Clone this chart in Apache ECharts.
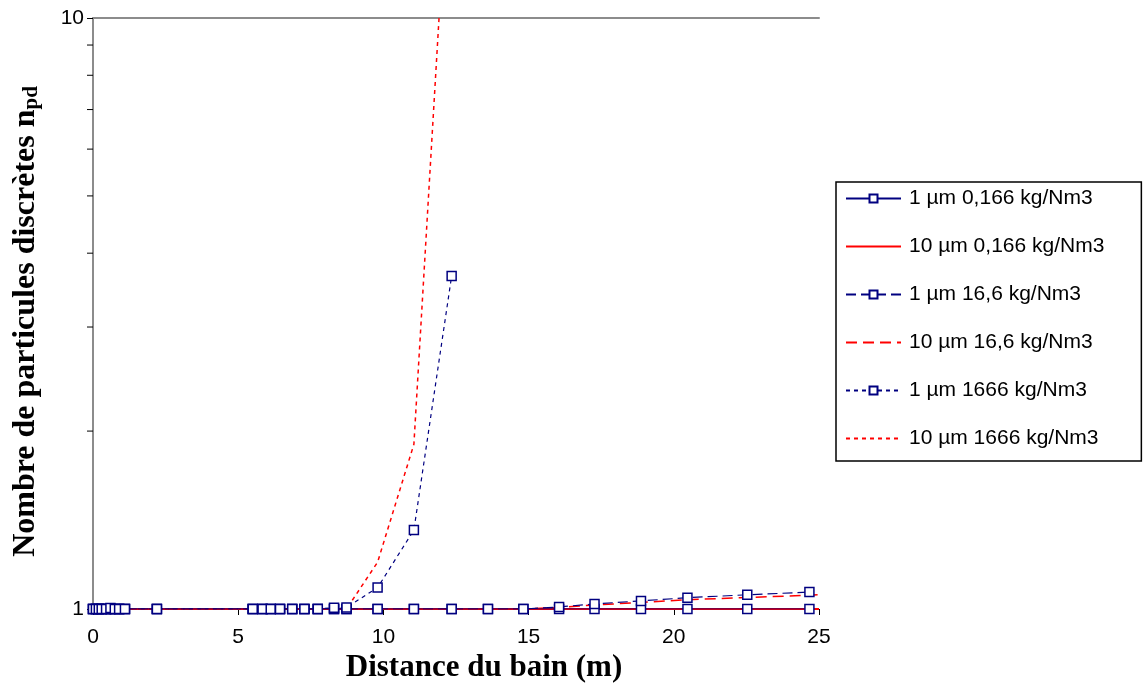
<!DOCTYPE html>
<html>
<head>
<meta charset="utf-8">
<style>
  html, body { margin: 0; padding: 0; background: #fff; }
  #chart { width: 1146px; height: 686px; }
</style>
<script src="https://cdn.jsdelivr.net/npm/echarts@6/dist/echarts.min.js"></script>
</head>
<body>
<div id="chart"></div>
<script>
// distances (m) des points de mesure
const xs = [0, 0.1, 0.2, 0.3, 0.45, 0.6, 0.75, 0.9, 1.1, 2.2, 5.5, 5.84, 6.12, 6.44, 6.86, 7.28, 7.74, 8.3, 8.73,
  9.8, 11.05, 12.35, 13.6, 14.82, 16.05, 17.27, 18.87, 20.47, 22.53, 24.67];
const xsRed = [0, 0.1, 0.2, 0.3, 0.45, 0.6, 0.75, 0.9, 1.1, 2.2, 5.5, 5.84, 6.12, 6.44, 6.86, 7.28, 7.74, 8.3, 8.73,
  9.8, 11.05, 12.35, 13.6, 14.82, 16.05, 17.27, 18.87, 20.47, 22.53, 24.67, 25];

const names = ['1 µm 0,166 kg/Nm3', '10 µm 0,166 kg/Nm3', '1 µm 16,6 kg/Nm3', '10 µm 16,6 kg/Nm3', '1 µm 1666 kg/Nm3', '10 µm 1666 kg/Nm3'];

const v1um0166 = [1, 1, 1, 1, 1, 1, 1, 1, 1, 1, 1, 1, 1, 1, 1, 1, 1, 1, 1, 1, 1, 1, 1, 1, 1, 1, 1, 1, 1, 1];
const v10um0166 = [1, 1, 1, 1, 1, 1, 1, 1, 1, 1, 1, 1, 1, 1, 1, 1, 1, 1, 1, 1, 1, 1, 1, 1, 1, 1, 1, 1, 1, 1, 1];
const v1um166 = [1, 1, 1, 1, 1, 1, 1, 1, 1, 1, 1, 1, 1, 1, 1, 1, 1, 1, 1, 1, 1, 1, 1, 1,
  1.008, 1.02, 1.032, 1.045, 1.057, 1.068];
const v10um166 = [1, 1, 1, 1, 1, 1, 1, 1, 1, 1, 1, 1, 1, 1, 1, 1, 1, 1, 1, 1, 1, 1, 1, 1,
  1.006, 1.016, 1.026, 1.037, 1.046, 1.055, 1.058];
const v1um1666 = [1, 1, 1, 1, 1, 1.004, 1, 1, 1, 1, 1, 1, 1, 1, 1, 1, 1, 1.005, 1.006, 1.087, 1.36, 3.66];
const v10um1666 = [1, 1, 1, 1, 1, 1, 1, 1, 1, 1, 1, 1, 1, 1, 1, 1, 1, 1, 1, 1.2, 1.9, 23];

const minorTicks = [2, 3, 4, 5, 6, 7, 8, 9]; // graduations secondaires axe log

const blue = '#000080';
const red = '#ff0000';
const sans = 'Liberation Sans, Arial, sans-serif';
const serif = 'Liberation Serif, Times New Roman, serif';

const pair = (x, y) => y.map((v, i) => [x[i], v]);

const squareSeries = (name, data, type, z) => ({
  name,
  type: 'line',
  data,
  z,
  symbol: 'rect',
  symbolSize: 9,
  itemStyle: { color: '#fff', borderColor: blue, borderWidth: 1.5 },
  lineStyle: { color: blue, width: 1.2, type },
});
const plainSeries = (name, data, type, width, z) => ({
  name,
  type: 'line',
  data,
  z,
  symbol: 'none',
  itemStyle: { color: red },
  lineStyle: { color: red, width, type },
});

// pas de symbole dans la légende pour les courbes rouges
const legendData = names.map((n, i) => (i % 2 === 1 ? { name: n, itemStyle: { opacity: 0 } } : { name: n }));

const chart = echarts.init(document.getElementById('chart'));
chart.setOption({
  animation: false,
  grid: { left: 93, right: 327, top: 18, bottom: 77, outerBoundsMode: 'none' },
  legend: {
    data: legendData,
    orient: 'vertical',
    left: 836,
    top: 182,
    padding: [6, 37, 12, 9],
    itemWidth: 55,
    itemHeight: 10,
    itemGap: 27,
    borderColor: '#000',
    borderWidth: 1.5,
    textStyle: { fontFamily: sans, fontSize: 21, color: '#000', padding: [0, 0, 0, 3] },
  },
  xAxis: [
    {
      type: 'value',
      min: 0,
      max: 25,
      interval: 5,
      name: 'Distance du bain (m)',
      nameLocation: 'middle',
      nameGap: 43,
      nameTextStyle: { fontFamily: serif, fontWeight: 'bold', fontSize: 31, color: '#000', padding: [0, 0, 0, 56] },
      axisLine: { onZero: false, lineStyle: { color: '#000', width: 1 } },
      axisTick: { length: 6, lineStyle: { color: '#000' } },
      axisLabel: { margin: 18, fontFamily: sans, fontSize: 21, color: '#000' },
      splitLine: { show: false },
    },
    {
      type: 'value',
      position: 'top',
      min: 0,
      max: 25,
      axisLine: { show: true, onZero: false, lineStyle: { color: '#8c8c8c', width: 2 } },
      axisTick: { show: false },
      axisLabel: { show: false },
      splitLine: { show: false },
    },
  ],
  yAxis: [
    {
      type: 'log',
      logBase: 10,
      min: 1,
      max: 10,
      name: 'Nombre de particules discrètes n{sub|pd}',
      nameLocation: 'middle',
      nameRotate: 90,
      nameGap: 51,
      nameTextStyle: {
        fontFamily: serif, fontWeight: 'bold', fontSize: 32, color: '#000', padding: [0, 16, 0, 0],
        rich: { sub: { fontFamily: serif, fontWeight: 'bold', fontSize: 21, color: '#000', verticalAlign: 'bottom', padding: [12, 0, 0, 0] } },
      },
      axisLine: { show: true, lineStyle: { color: '#000', width: 1 } },
      axisTick: { show: true, length: 6, lineStyle: { color: '#000' } },
      axisLabel: { margin: 9, fontFamily: sans, fontSize: 21, color: '#000' },
      splitLine: { show: false },
    },
    {
      type: 'log',
      logBase: 10,
      min: 1,
      max: 10,
      position: 'right',
      axisLine: { show: true, lineStyle: { color: '#8c8c8c', width: 2 } },
      axisTick: { show: false },
      axisLabel: { show: false },
      splitLine: { show: false },
    },
  ],
  series: [
    squareSeries(names[0], pair(xs, v1um0166), 'solid', 4),
    plainSeries(names[1], pair(xsRed, v10um0166), 'solid', 2, 2),
    squareSeries(names[2], pair(xs, v1um166), [10, 5], 4),
    plainSeries(names[3], pair(xsRed, v10um166), [11, 6], 1.5, 2),
    squareSeries(names[4], pair(xs, v1um1666), [4, 4], 4),
    plainSeries(names[5], pair(xs, v10um1666), [4, 4], 1.5, 2),
    {
      type: 'custom',
      silent: true,
      clip: false,
      data: minorTicks.map((v) => [0, v]),
      renderItem: (params, api) => {
        const p = api.coord([api.value(0), api.value(1)]);
        return {
          type: 'line',
          shape: { x1: p[0] - 6, y1: p[1], x2: p[0], y2: p[1] },
          style: { stroke: '#000', lineWidth: 1 },
        };
      },
    },
  ],
});
</script>
</body>
</html>
